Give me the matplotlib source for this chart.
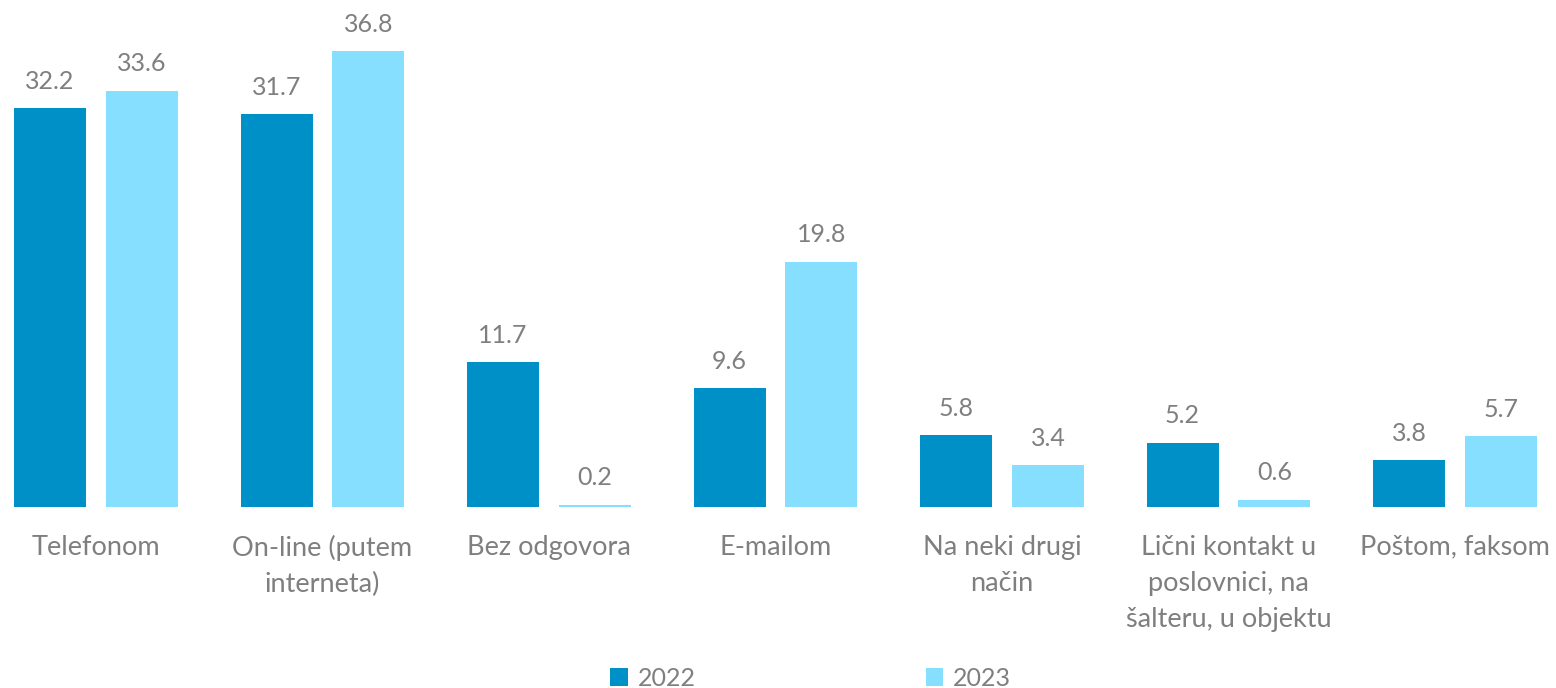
import numpy as np
import matplotlib
matplotlib.use("Agg")
import matplotlib.pyplot as plt

# values
categories = ["Telefonom", "On-line (putem\ninterneta)", "Bez odgovora", "E-mailom",
              "Na neki drugi\nnačin", "Lični kontakt u\nposlovnici, na\nšalteru, u objektu",
              "Poštom, faksom"]
y2022 = [32.2, 31.7, 11.7, 9.6, 5.8, 5.2, 3.8]
y2023 = [33.6, 36.8, 0.2, 19.8, 3.4, 0.6, 5.7]
series_names = ["2022", "2023"]

c22 = "#0090C8"
c23 = "#87DFFF"
grey = "#7F7F7F"
plt.rcParams['font.family'] = ['Lato', 'DejaVu Sans']

fig = plt.figure(figsize=(15.56, 6.88), dpi=100)
ax = fig.add_axes([0, (688 - 507) / 688, 1, 507 / 688])

x = np.arange(len(categories))
w = 0.318
off = 0.203
b1 = ax.bar(x - off, y2022, w, color=c22, label=series_names[0])
b2 = ax.bar(x + off, y2023, w, color=c23, label=series_names[1])

for bars, vals in ((b1, y2022), (b2, y2023)):
    for b, v in zip(bars, vals):
        ax.annotate(f"{v:.1f}", (b.get_x() + b.get_width() / 2, v),
                    xytext=(0, 11), textcoords="offset points",
                    ha="center", va="bottom", fontsize=18, color=grey)

ax.set_xlim(-96 / 226.5, (1556 - 96) / 226.5)
ax.set_ylim(0, 507 / 12.39)
ax.set_xticks(x)
ax.set_xticklabels(categories, fontsize=19.5, color=grey, linespacing=1.55)
ax.tick_params(axis="x", length=0, pad=20)
ax.set_yticks([])
for s in ax.spines.values():
    s.set_visible(False)

fig.legend(loc="lower center", bbox_to_anchor=(0.521, -0.035), ncol=2, frameon=False,
           fontsize=18, labelcolor=grey, handlelength=0.7, handleheight=0.7,
           handletextpad=0.4, columnspacing=9.2)

fig.savefig("out.png", dpi=100)
